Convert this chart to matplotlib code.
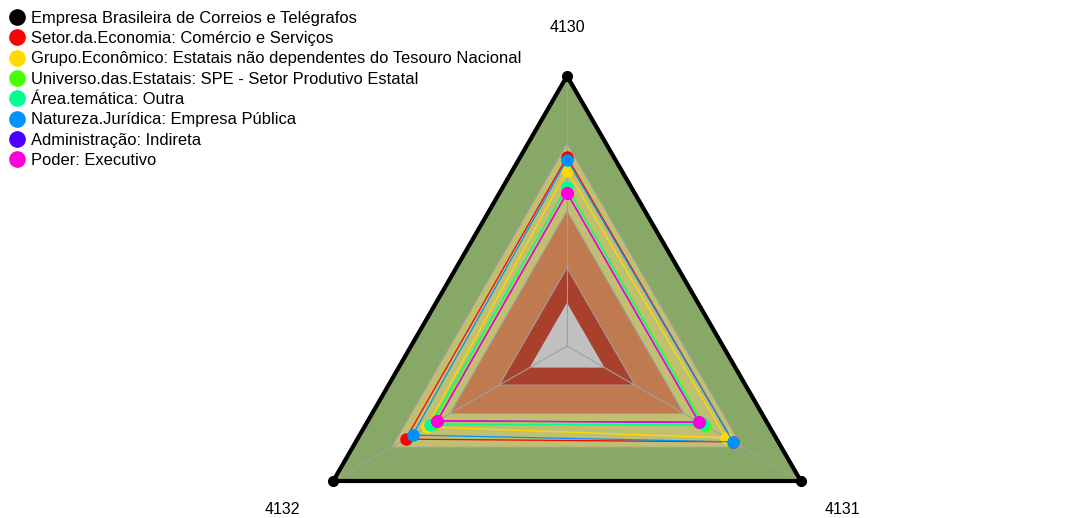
import numpy as np
import matplotlib.pyplot as plt
from matplotlib.lines import Line2D

plt.rcParams['font.family'] = ['Liberation Sans', 'DejaVu Sans']

# axes of the radar (clockwise from top)
eixos = ["4130", "4131", "4132"]

# background bands: outer limit and colour
faixas = [1.0, 0.75, 0.5, 0.29, 0.16]
cores_faixas = ["#88a868", "#c0c070", "#c07a50", "#a8402c", "#c0c0c0"]

# series
nomes = [
    "Empresa Brasileira de Correios e Telégrafos",
    "Setor.da.Economia: Comércio e Serviços",
    "Grupo.Econômico: Estatais não dependentes do Tesouro Nacional",
    "Universo.das.Estatais: SPE - Setor Produtivo Estatal",
    "Área.temática: Outra",
    "Natureza.Jurídica: Empresa Pública",
    "Administração: Indireta",
    "Poder: Executivo",
]
cores = ["#000000", "#FF0000", "#FFDB00", "#49FF00", "#00FF92", "#0092FF", "#4900FF", "#FF00DB"]
v_empresa = [1.0, 1.0, 1.0]
v_setor = [0.70, 0.71, 0.69]
v_grupo = [0.65, 0.68, 0.60]
v_universo = [0.59, 0.59, 0.575]
v_area = [0.59, 0.58, 0.585]
v_natureza = [0.69, 0.71, 0.66]
v_admin = [0.567, 0.565, 0.555]
v_poder = [0.567, 0.565, 0.555]
valores = [v_empresa, v_setor, v_grupo, v_universo, v_area, v_natureza, v_admin, v_poder]

W, H = 1069, 518
fig = plt.figure(figsize=(W / 100, H / 100), dpi=100)
cx, cy, R = 567, 346, 270
ax = fig.add_axes([(cx - R) / W, (H - cy - R) / H, 2 * R / W, 2 * R / H], projection='polar')
ax.set_theta_offset(np.pi / 2)
ax.set_theta_direction(-1)
ax.set_ylim(0, 1)
ax.axis('off')

ang = np.linspace(0, 2 * np.pi, len(eixos), endpoint=False)
ang_c = np.append(ang, ang[0])

for r, c in zip(faixas, cores_faixas):
    ax.fill(ang_c, [r] * 4, color=c, zorder=1, lw=0)
for r in faixas[:-1]:
    ax.plot(ang_c, [r] * 4, color="#a0a0a0", lw=0.8, zorder=2)
for a in ang:
    ax.plot([a, a], [0, 1], color="#a0a0a0", lw=0.8, zorder=2)

for i, (v, c) in enumerate(zip(valores, cores)):
    vc = np.append(v, v[0])
    lw = 3 if i == 0 else 0.9
    ax.plot(ang_c, vc, color=c, lw=lw, zorder=3 + i)
    ax.plot(ang, v, 'o', color=c, ms=7 if i == 0 else 8, zorder=3 + i, clip_on=False)

# label offsets (points) so the text sits like the original
desloc = [(0, 0), (0, -3), (-6, -3)]
for a, t, d in zip(ang, eixos, desloc):
    ax.annotate(t, (a, 1.18), xytext=d, textcoords='offset points',
                ha='center', va='center', fontsize=11.5, annotation_clip=False)

handles = [Line2D([], [], marker='o', ls='', color=c, ms=11) for c in cores]
fig.legend(handles, nomes, loc='upper left', bbox_to_anchor=(0.0, 0.995), frameon=False,
           fontsize=11.9, handletextpad=0.25, labelspacing=0.32, borderaxespad=0.1, handlelength=1.1)

fig.savefig("out.png", dpi=100)
